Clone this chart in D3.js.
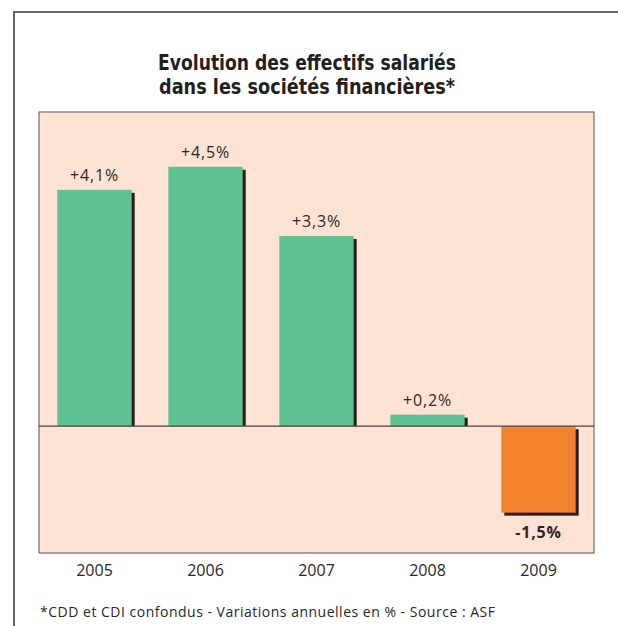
<!DOCTYPE html>
<html>
<head>
<meta charset="utf-8">
<script src="https://cdn.jsdelivr.net/npm/d3@7"></script>
<style>
  html, body { margin: 0; padding: 0; background: #fff; }
  svg { display: block; }
</style>
</head>
<body>
<svg id="chart" width="618" height="626"></svg>
<script>
// Annual change of salaried staff in financial companies
const years = ["2005", "2006", "2007", "2008", "2009"];
const values = [4.1, 4.5, 3.3, 0.2, -1.5];
const valueLabels = ["+4,1%", "+4,5%", "+3,3%", "+0,2%", "-1,5%"];
const titleLines = ["Evolution des effectifs salariés", "dans les sociétés financières*"];
const footnote = "*CDD et CDI confondus - Variations annuelles en % - Source : ASF";

const svg = d3.select("#chart");
const plot = { left: 39, right: 594, top: 112, bottom: 553 };

// outer frame (runs off the right and bottom edges)
svg.append("rect")
  .attr("x", 14).attr("y", 12).attr("width", 700).attr("height", 700)
  .attr("fill", "none").attr("stroke", "#666").attr("stroke-width", 2);

// title, two centred condensed bold lines
const titleWidths = [298, 296];
svg.append("g").selectAll("text").data(titleLines).join("text")
  .attr("x", 307).attr("y", (d, i) => 70 + i * 24)
  .attr("text-anchor", "middle")
  .attr("font-family", "'DejaVu Sans Condensed', 'Liberation Sans Narrow', sans-serif")
  .attr("font-weight", "bold").attr("font-size", 22).attr("fill", "#231f20")
  .attr("textLength", (d, i) => titleWidths[i])
  .attr("lengthAdjust", "spacingAndGlyphs")
  .text(d => d);

// plot background
svg.append("rect")
  .attr("x", plot.left).attr("y", plot.top)
  .attr("width", plot.right - plot.left).attr("height", plot.bottom - plot.top)
  .attr("fill", "#fee3d4").attr("stroke", "#5a5150").attr("stroke-width", 1);

const x = d3.scaleBand().domain(years)
  .range([plot.left, plot.right]).paddingInner(0.33).paddingOuter(0.165);
const y = d3.scaleLinear().domain([-2.2, 5.45]).range([plot.bottom, plot.top]);

const data = years.map((yr, i) => ({ year: yr, value: values[i], label: valueLabels[i] }));
const off = 3;

// drop shadows
svg.append("g").selectAll("rect").data(data).join("rect")
  .attr("x", d => x(d.year) + off)
  .attr("y", d => d.value >= 0 ? y(d.value) + off : y(0) + off)
  .attr("width", x.bandwidth())
  .attr("height", d => d.value >= 0 ? y(0) - y(d.value) - off : y(d.value) - y(0))
  .attr("fill", "#231f20");

// bars
svg.append("g").selectAll("rect").data(data).join("rect")
  .attr("x", d => x(d.year))
  .attr("y", d => y(Math.max(0, d.value)))
  .attr("width", x.bandwidth())
  .attr("height", d => Math.abs(y(d.value) - y(0)))
  .attr("fill", d => d.value >= 0 ? "#5ec093" : "#f3822e");

// zero line
svg.append("line")
  .attr("x1", plot.left).attr("x2", plot.right)
  .attr("y1", y(0)).attr("y2", y(0))
  .attr("stroke", "#4a4443").attr("stroke-width", 1.2);

// value labels
svg.append("g").selectAll("text").data(data).join("text")
  .attr("x", d => x(d.year) + x.bandwidth() / 2)
  .attr("y", d => d.value >= 0 ? y(d.value) - 9 : y(d.value) + 25)
  .attr("text-anchor", "middle")
  .attr("font-family", "'Open Sans', sans-serif")
  .attr("font-size", 16)
  .attr("letter-spacing", 0.8)
  .attr("font-weight", d => d.value >= 0 ? "normal" : "bold")
  .attr("fill", "#2b2626")
  .text(d => d.label);

// category axis
const xAxis = svg.append("g")
  .attr("transform", `translate(0,${plot.bottom})`)
  .call(d3.axisBottom(x).tickSize(0).tickPadding(12));
xAxis.select(".domain").remove();
xAxis.selectAll("text")
  .attr("font-family", "'Open Sans', sans-serif")
  .attr("font-size", 16).attr("fill", "#2b2626");

// footnote
svg.append("text")
  .attr("x", 40).attr("y", 617)
  .attr("font-family", "'Open Sans', sans-serif")
  .attr("font-size", 14).attr("fill", "#2b2626")
  .attr("textLength", 455)
  .attr("lengthAdjust", "spacing")
  .text(footnote);
</script>
</body>
</html>
